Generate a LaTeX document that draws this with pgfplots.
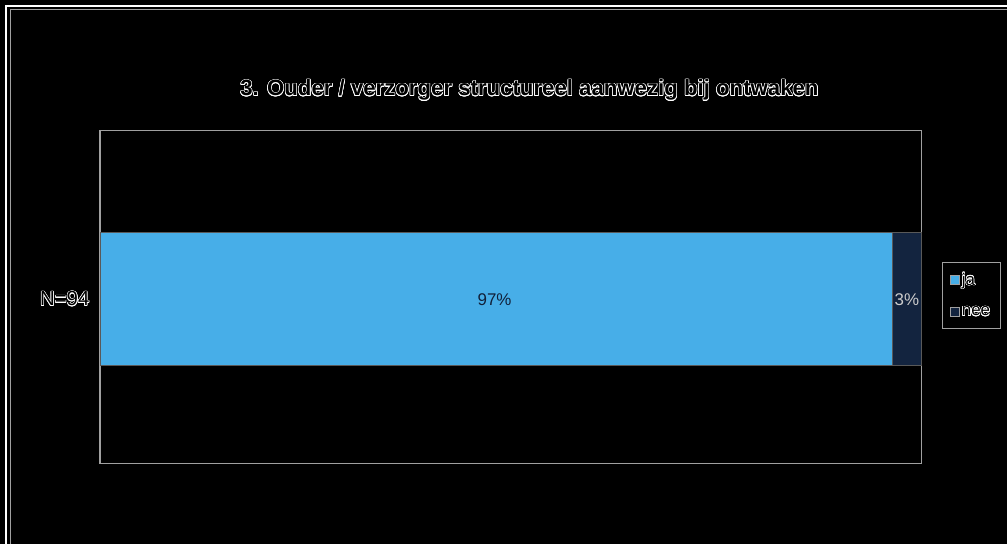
\documentclass[border=0pt]{standalone}
\usepackage{pgfplots}
\pgfplotsset{compat=1.18}
\usepackage{fontspec}
\setmainfont{Liberation Sans}
\usepackage{contour}
\contourlength{0.6pt}
\definecolor{ja}{HTML}{47AEE8}
\definecolor{nee}{HTML}{13243F}
\definecolor{fr}{HTML}{A0A0A0}
\begin{document}
\begin{tikzpicture}[x=1bp,y=1bp]
\fill[black] (0,0) rectangle (1008,544);
\draw[white, line width=1.7bp] (5.8,0) -- (5.8,538.2) -- (1008,538.2);
\draw[fr, line width=1bp] (10.5,0) -- (10.5,534.5) -- (1008,534.5);
\begin{axis}[at={(100bp,80bp)}, anchor=south west, scale only axis,
  width=822bp, height=333bp,
  xbar stacked, xmin=0, xmax=100, ymin=0, ymax=1, bar width=133bp,
  axis line style={fr, line width=1.2bp},
  xtick=\empty, ytick={0.494}, yticklabels={{\color{black}\contour{white}{N=94}}},
  major tick length=0pt,
  tick label style={font=\fontsize{20.5}{22}\selectfont},
  yticklabel style={xshift=-7bp},
  title={{\color{black}\contour{white}{3. Ouder / verzorger structureel aanwezig bij ontwaken}}},
  title style={font=\bfseries\fontsize{22.3}{25}\selectfont, at={(0.523,1)}, anchor=base, yshift=29bp},
  legend style={at={(1.025,0.607)}, anchor=north west, fill=black, draw=fr, line width=1bp,
    font=\fontsize{17}{19}\selectfont, row sep=16bp, inner xsep=8bp, inner ysep=9bp},
  legend cell align=left,
  legend image code/.code={\draw[#1, draw=fr, line width=0.6bp] (0bp,-4bp) rectangle (9bp,5bp);},
  clip=false,
]
\addplot[fill=ja, draw=gray!70!black, line width=0.6bp] coordinates {(96.5,0.494)};
\addplot[fill=nee, draw=gray!70!black, line width=0.6bp] coordinates {(3.5,0.494)};
\legend{{\color{black}\contour{white}{ja}},{\color{black}\contour{white}{nee}}}
\coordinate (l97) at (axis cs:48.05,0.494);
\coordinate (l3) at (axis cs:98.25,0.494);
\end{axis}
\node[font=\fontsize{17}{19}\selectfont, text=nee!90!black] at (l97) {97\%};
\node[font=\fontsize{17}{19}\selectfont, text=white!80!black] at (l3) {3\%};
\end{tikzpicture}
\end{document}
